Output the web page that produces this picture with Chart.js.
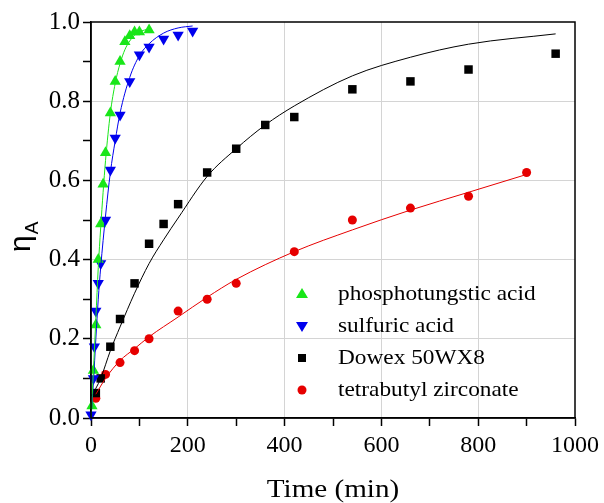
<!DOCTYPE html>
<html>
<head>
<meta charset="utf-8">
<script src="https://cdn.jsdelivr.net/npm/chart.js@4/dist/chart.umd.min.js"></script>
<style>
  body { margin: 0; background: #fff; }
  #wrap { width: 604px; height: 503px; }
</style>
</head>
<body>
<div id="wrap"><canvas id="etaChart"></canvas></div>
<script>
// measured points
const greenT = [2, 5, 10, 15, 20, 25, 30, 40, 50, 60, 70, 80, 90, 100, 120];
const greenEta = [0.03, 0.12, 0.235, 0.40, 0.49, 0.59, 0.67, 0.77, 0.85, 0.90, 0.95, 0.965, 0.975, 0.975, 0.98];
const blueT = [0, 5, 7, 10, 15, 20, 30, 40, 50, 60, 80, 100, 120, 150, 180, 210];
const blueEta = [0.008, 0.10, 0.18, 0.27, 0.34, 0.39, 0.50, 0.626, 0.707, 0.765, 0.85, 0.917, 0.937, 0.957, 0.967, 0.977];
const blackT = [10, 20, 40, 60, 90, 120, 150, 180, 240, 300, 360, 420, 540, 660, 780, 960];
const blackEta = [0.063, 0.10, 0.18, 0.25, 0.34, 0.44, 0.49, 0.54, 0.62, 0.68, 0.74, 0.76, 0.83, 0.85, 0.88, 0.92];
const redT = [10, 30, 60, 90, 120, 180, 240, 300, 420, 540, 660, 780, 900];
const redEta = [0.05, 0.11, 0.14, 0.17, 0.20, 0.27, 0.30, 0.34, 0.42, 0.50, 0.53, 0.56, 0.62];

// fitted curves
const greenFitT = [0, 5, 10, 15, 20, 25, 30, 40, 50, 60, 70, 80, 90, 100, 120];
const greenFitEta = [0.0, 0.12, 0.25, 0.38, 0.48, 0.57, 0.65, 0.77, 0.845, 0.895, 0.93, 0.952, 0.967, 0.975, 0.983];
const blueFitT = [0, 5, 10, 15, 20, 30, 40, 50, 60, 80, 100, 120, 150, 180, 210];
const blueFitEta = [0.0, 0.09, 0.20, 0.30, 0.38, 0.51, 0.62, 0.70, 0.77, 0.86, 0.915, 0.945, 0.972, 0.985, 0.99];
const blackFitT = [0, 10, 20, 40, 60, 90, 120, 150, 180, 240, 300, 360, 420, 540, 660, 780, 960];
const blackFitEta = [0.055, 0.075, 0.10, 0.17, 0.23, 0.315, 0.39, 0.45, 0.505, 0.61, 0.68, 0.74, 0.788, 0.864, 0.911, 0.944, 0.970];
const redFitT = [10, 30, 60, 90, 120, 180, 240, 300, 420, 540, 660, 780, 900];
const redFitEta = [0.06, 0.10, 0.145, 0.175, 0.205, 0.255, 0.305, 0.35, 0.42, 0.475, 0.525, 0.57, 0.615];

const seriesNames = ['phosphotungstic acid', 'sulfuric acid', 'Dowex 50WX8', 'tetrabutyl zirconate'];
const xTicks = [0, 200, 400, 600, 800, 1000];
const yTicks = [0.0, 0.2, 0.4, 0.6, 0.8, 1.0];

const GREEN = '#19e619', BLUE = '#0000ee', BLACK = '#000000', RED = '#e60000';
const SERIF = "'Liberation Serif', 'Times New Roman', serif";

function pts(xs, ys) { return xs.map((x, i) => ({ x: x, y: ys[i] })); }

function markers(label, xs, ys, color, style, r, rot) {
  return {
    label: label, data: pts(xs, ys), showLine: false,
    pointStyle: style, pointRadius: r, pointRotation: rot || 0,
    backgroundColor: color, borderColor: color, borderWidth: 0, clip: false
  };
}
function fitLine(xs, ys, color) {
  return {
    label: '', data: pts(xs, ys), showLine: true, pointRadius: 0,
    borderColor: color, borderWidth: 1, tension: 0.4,
    cubicInterpolationMode: 'monotone', fill: false
  };
}

// the original text is a bit wider than the font, so stretch it sideways
function wideText(ctx, txt, x, y, sx) {
  ctx.save();
  ctx.translate(x, y);
  ctx.scale(sx, 1);
  ctx.fillText(txt, 0, 0);
  ctx.restore();
}

// frame, axis titles and the legend box inside the plot
const decorPlugin = {
  id: 'decor',
  afterDraw(chart) {
    const { ctx, chartArea: a } = chart;
    ctx.save();
    ctx.strokeStyle = '#000';
    ctx.lineWidth = 1.5;
    ctx.strokeRect(a.left, a.top, a.right - a.left, a.bottom - a.top);

    ctx.fillStyle = '#000';
    ctx.font = '26px ' + SERIF;
    ctx.textAlign = 'center';
    ctx.textBaseline = 'alphabetic';
    wideText(ctx, 'Time (min)', (a.left + a.right) / 2, 497, 1.12);

    ctx.save();
    ctx.translate(30, 252);
    ctx.rotate(-Math.PI / 2);
    ctx.textAlign = 'left';
    ctx.font = "30px 'Liberation Sans', Arial, sans-serif";
    ctx.fillText('\u03b7', 0, 0);
    const w = ctx.measureText('\u03b7').width;
    ctx.font = "19px 'Liberation Sans', Arial, sans-serif";
    ctx.fillText('A', w + 1, 8);
    ctx.restore();

    const rows = [294, 326, 358, 390];
    const mx = 302, tx = 338;
    ctx.font = '22px ' + SERIF;
    ctx.textAlign = 'left';
    ctx.textBaseline = 'middle';
    const cols = [GREEN, BLUE, BLACK, RED];
    rows.forEach((y, i) => {
      ctx.fillStyle = cols[i];
      ctx.beginPath();
      if (i === 0) { ctx.moveTo(mx, y - 6); ctx.lineTo(mx + 6, y + 4); ctx.lineTo(mx - 6, y + 4); ctx.closePath(); }
      else if (i === 1) { ctx.moveTo(mx, y + 6); ctx.lineTo(mx + 6, y - 4); ctx.lineTo(mx - 6, y - 4); ctx.closePath(); }
      else if (i === 2) { ctx.rect(mx - 4, y - 4, 8, 8); }
      else { ctx.arc(mx, y, 4.5, 0, Math.PI * 2); }
      ctx.fill();
      ctx.fillStyle = '#000';
      wideText(ctx, seriesNames[i], tx, y, 1.06);
    });
    ctx.restore();
  }
};

new Chart(document.getElementById('etaChart').getContext('2d'), {
  type: 'scatter',
  data: {
    datasets: [
      fitLine(greenFitT, greenFitEta, GREEN),
      fitLine(blueFitT, blueFitEta, BLUE),
      fitLine(blackFitT, blackFitEta, BLACK),
      fitLine(redFitT, redFitEta, RED),
      markers(seriesNames[0], greenT, greenEta, GREEN, 'triangle', 6.5),
      markers(seriesNames[1], blueT, blueEta, BLUE, 'triangle', 6.5, 180),
      markers(seriesNames[2], blackT, blackEta, BLACK, 'rect', 6),
      markers(seriesNames[3], redT, redEta, RED, 'circle', 4.5)
    ]
  },
  options: {
    responsive: true,
    maintainAspectRatio: false,
    animation: false,
    layout: { padding: { top: 22, right: 26, left: 0, bottom: 0 } },
    plugins: {
      legend: { display: false },
      tooltip: { enabled: false }
    },
    scales: {
      x: {
        type: 'linear', min: 0, max: 1000,
        afterFit(scale) { scale.height = 85; },
        ticks: {
          stepSize: 100, autoSkip: false, maxRotation: 0, padding: 5,
          color: '#000', font: { family: SERIF, size: 24 },
          callback: v => (xTicks.includes(v) ? String(v) : '')
        },
        grid: {
          color: c => (c.tick && c.tick.value % 200 === 0 && c.tick.value > 0 && c.tick.value < 1000) ? '#d4d4d4' : 'rgba(0,0,0,0)',
          tickColor: '#000', tickLength: 8, tickWidth: 1.5, lineWidth: 1
        },
        border: { color: '#000', width: 1.5 }
      },
      y: {
        type: 'linear', min: 0, max: 1,
        afterFit(scale) { scale.width = 91; },
        ticks: {
          stepSize: 0.1, autoSkip: false, padding: 3,
          color: '#000', font: { family: SERIF, size: 25 },
          callback: v => {
            const k = Math.round(v * 10);
            return yTicks.some(t => Math.round(t * 10) === k) ? (k / 10).toFixed(1) : '';
          }
        },
        grid: {
          color: c => {
            const k = c.tick ? Math.round(c.tick.value * 10) : 0;
            return (k % 2 === 0 && k > 0 && k < 10) ? '#d4d4d4' : 'rgba(0,0,0,0)';
          },
          tickColor: '#000', tickLength: 8, tickWidth: 1.5, lineWidth: 1
        },
        border: { color: '#000', width: 1.5 }
      }
    }
  },
  plugins: [decorPlugin]
});
</script>
</body>
</html>
